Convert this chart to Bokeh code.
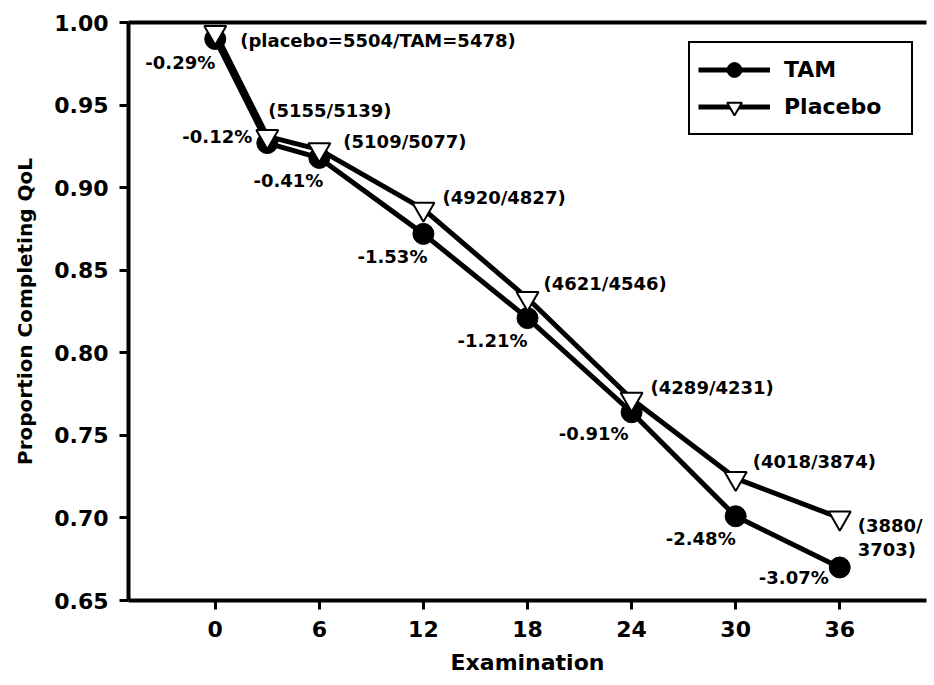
from bokeh.plotting import figure
from bokeh.models import (Range1d, FixedTicker, NumeralTickFormatter, LinearAxis,
                          Legend, LegendItem, ColumnDataSource)
from bokeh.core.properties import value
from bokeh.embed import file_html
from bokeh.resources import INLINE

# ---- data ----
exam = [0, 3, 6, 12, 18, 24, 30, 36]
tam = [0.990, 0.927, 0.918, 0.872, 0.821, 0.764, 0.701, 0.670]
placebo = [0.994, 0.931, 0.923, 0.887, 0.833, 0.772, 0.724, 0.700]
count_labels = ["(placebo=5504/TAM=5478)", "(5155/5139)", "(5109/5077)", "(4920/4827)",
                "(4621/4546)", "(4289/4231)", "(4018/3874)", "(3880/\n3703)"]
pct_labels = ["-0.29%", "-0.12%", "-0.41%", "-1.53%", "-1.21%", "-0.91%", "-2.48%", "-3.07%"]
x_ticks = [0, 6, 12, 18, 24, 30, 36]
y_ticks = [0.65, 0.70, 0.75, 0.80, 0.85, 0.90, 0.95, 1.00]

# ---- label placement (screen-pixel offsets, styling only) ----
count_dx = [25, 1, 24, 19, 16, 19, 17, 18]
count_dy = [8, -26, -8, -12, -15, -12, -17, 20]
pct_dx = [0, -15, 4, 4, 0, -3, 0, -11]
pct_dy = [23, -7, 23, 23, 22, 21, 22, 10]

FONT = "DejaVu Sans"

p = figure(width=928, height=677, x_range=Range1d(-5, 41), y_range=Range1d(0.65, 1.0),
           output_backend="svg", toolbar_location=None,
           min_border_left=128, min_border_right=2, min_border_top=22, min_border_bottom=77)
p.outline_line_color = None
p.xgrid.grid_line_color = None
p.ygrid.grid_line_color = None
p.background_fill_color = "white"

r_tam_line = p.line(exam, tam, line_width=5, line_color="black")
r_pl_line = p.line(exam, placebo, line_width=5, line_color="black")
r_tam_pts = p.scatter(exam, tam, marker="circle", size=21, fill_color="black", line_color="black")
r_pl_pts = p.scatter(exam, placebo, marker="inverted_triangle", size=22, fill_color="white",
                     line_color="black", line_width=2)

src_counts = ColumnDataSource(dict(x=exam, y=placebo, text=count_labels, dx=count_dx, dy=count_dy))
p.text(x="x", y="y", text="text", source=src_counts, x_offset="dx", y_offset="dy",
       text_font=value(FONT), text_font_style="bold", text_font_size="18px",
       text_align="left", text_baseline="middle", text_color="black", text_line_height=1.15)

src_pct = ColumnDataSource(dict(x=exam, y=tam, text=pct_labels, dx=pct_dx, dy=pct_dy))
p.text(x="x", y="y", text="text", source=src_pct, x_offset="dx", y_offset="dy",
       text_font=value(FONT), text_font_style="bold", text_font_size="18px",
       text_align="right", text_baseline="middle", text_color="black")

# axes
p.xaxis.ticker = FixedTicker(ticks=x_ticks)
p.yaxis.ticker = FixedTicker(ticks=y_ticks)
p.yaxis.formatter = NumeralTickFormatter(format="0.00")
p.xaxis.axis_label = "Examination"
p.yaxis.axis_label = "Proportion Completing QoL"
for ax in (p.xaxis[0], p.yaxis[0]):
    ax.axis_line_width = 4
    ax.axis_line_color = "black"
    ax.major_tick_line_width = 3
    ax.major_tick_line_color = "black"
    ax.major_tick_out = 9
    ax.major_tick_in = 0
    ax.minor_tick_line_color = None
    ax.major_label_text_font = FONT
    ax.major_label_text_font_style = "bold"
    ax.major_label_text_font_size = "22px"
    ax.major_label_text_color = "black"
    ax.axis_label_text_font = FONT
    ax.axis_label_text_font_style = "bold"
    ax.axis_label_text_color = "black"
p.xaxis.axis_label_text_font_size = "22px"
p.yaxis.axis_label_text_font_size = "20px"
p.xaxis.major_label_standoff = 11
p.yaxis.major_label_standoff = 11
p.xaxis.axis_label_standoff = 10
p.yaxis.axis_label_standoff = 14

top_axis = LinearAxis(ticker=FixedTicker(ticks=[]), major_label_text_font_size="0px",
                      major_tick_out=0, major_tick_in=0, minor_tick_out=0, minor_tick_in=0,
                      axis_line_width=4, axis_line_color="black")
p.add_layout(top_axis, "above")

legend = Legend(items=[LegendItem(label="TAM", renderers=[r_tam_line, r_tam_pts]),
                       LegendItem(label="Placebo", renderers=[r_pl_line, r_pl_pts])],
                location=(560, 465), orientation="vertical",
                glyph_width=72, glyph_height=37, spacing=0, padding=8, margin=0,
                label_standoff=14, label_width=119,
                label_text_font=FONT, label_text_font_style="bold", label_text_font_size="22px",
                label_text_color="black",
                border_line_color="black", border_line_width=2, border_line_alpha=1.0,
                background_fill_color="white", background_fill_alpha=1.0)
p.add_layout(legend)

open("out.html", "w").write(file_html(p, INLINE))
